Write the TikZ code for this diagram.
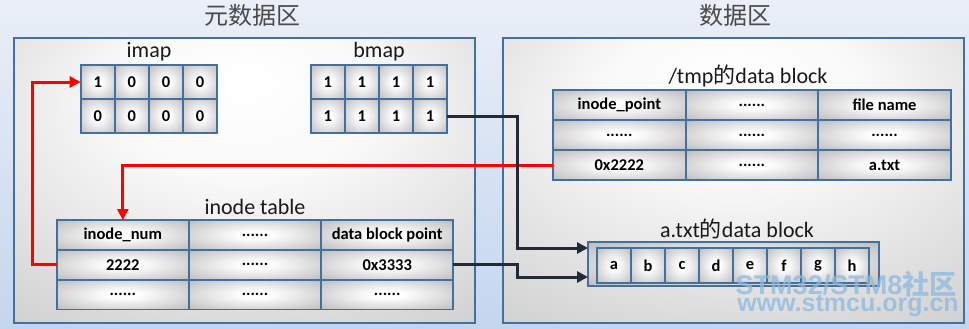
\documentclass[tikz,border=0pt]{standalone}
\usepackage{fontspec}
\setmainfont{Carlito}
\newfontfamily\cjk{Noto Sans CJK SC}
\newfontfamily\wmfont{Liberation Sans}
\usepackage{tikz}
\usetikzlibrary{arrows.meta, positioning}
\definecolor{bgtop}{HTML}{EAEFF8}
\definecolor{bgbot}{HTML}{C4D6EE}
\definecolor{edge}{HTML}{41719C}
\definecolor{cellgray}{HTML}{9C9C9C}
\definecolor{panelgray}{HTML}{A2A2A2}
\definecolor{linkdark}{HTML}{222A35}
\definecolor{titlegray}{HTML}{4A4A4A}
\definecolor{wmblue}{HTML}{8CB9E0}
\newcommand\moredots{......}
\pgfdeclareradialshading{panelglow}{\pgfpoint{0bp}{18bp}}{color(0bp)=(white); color(14bp)=(white!94!panelgray); color(45bp)=(white!45!panelgray); color(75bp)=(panelgray)}
\pgfdeclareradialshading{cellglow}{\pgfpoint{0bp}{0bp}}{color(0bp)=(white); color(6bp)=(white); color(26bp)=(white!55!cellgray); color(50bp)=(cellgray)}
\tikzset{
  panel/.style={rectangle, draw=edge, line width=2.4pt, shading=panelglow},
  cell/.style={rectangle, draw=edge, line width=1.8pt, shading=cellglow, inner sep=0pt, outer sep=0pt, font=\fontsize{16.5}{18}\selectfont\bfseries},
  bit/.style={cell, minimum width=34.1pt, minimum height=34pt},
  fld/.style={cell, minimum width=132.2pt, minimum height=29.8pt},
  chr/.style={cell, minimum width=34pt, minimum height=35pt},
  ttl/.style={font=\cjk\fontsize{24}{28}\selectfont, text=titlegray},
  lab/.style={font=\fontsize{22}{26}\selectfont, text=black!90},
  redlink/.style={-{Triangle[length=11pt,width=11pt]}, line width=3pt, draw=red},
  darklink/.style={-{Triangle[length=11pt,width=11pt]}, line width=3pt, draw=linkdark},
  wm/.style={font=\wmfont\bfseries, text=wmblue, opacity=0.75},
}

\begin{document}
\begin{tikzpicture}[x=1pt, y=-1pt]
  \fill[top color=bgtop, bottom color=bgbot] (0,0) rectangle (969,329);
  \useasboundingbox (0,0) rectangle (969,329);

  % two areas
  \node[panel, minimum width=461pt, minimum height=285pt] (meta) at (244.5,180.5) {};
  \node[panel, minimum width=461pt, minimum height=285pt] (data) at (733.5,180.5) {};
  \node[ttl] (metattl) at (252,15) {元数据区};
  \node[ttl] (datattl) at (735,15) {数据区};

  % imap and bmap
  \node[lab] (imaplab) at (149,52) {imap};
  \node[lab] (bmaplab) at (379,52) {bmap};
  \foreach \r/\row in {1/{1,0,0,0},2/{0,0,0,0}}
    \foreach \v [count=\c] in \row
      \node[bit] (im\r\c) at ({80.7+34.1*(\c-0.5)},{65+34*(\r-0.5)}) {\v};
  \foreach \r/\row in {1/{1,1,1,1},2/{1,1,1,1}}
    \foreach \v [count=\c] in \row
      \node[bit] (bm\r\c) at ({310.7+34.1*(\c-0.5)},{65+34*(\r-0.5)}) {\v};

  % inode table
  \node[lab] (itlab) at (255,207) {inode table};
  \foreach \r/\row in {1/{inode\_num,\moredots,data block point},2/{2222,\moredots,0x3333},3/{\moredots,\moredots,\moredots}}
    \foreach \v [count=\c] in \row
      \node[fld] (it\r\c) at ({56.7+132.2*(\c-0.5)},{220+29.8*(\r-0.5)}) {\v};

  % /tmp data block
  \node[lab] (tmplab) at (748,76) {/tmp{\cjk 的}data block};
  \foreach \r/\row in {1/{inode\_point,\moredots,file name},2/{\moredots,\moredots,\moredots},3/{0x2222,\moredots,a.txt}}
    \foreach \v [count=\c] in \row
      \node[fld] (tp\r\c) at ({553+132.6*(\c-0.5)},{90+30*(\r-0.5)}) {\v};

  % a.txt data block
  \node[lab] (txtlab) at (737,229) {a.txt{\cjk 的}data block};
  \node[cell, minimum width=291pt, minimum height=44pt] (abox) at (733.5,264) {};
  \foreach \v [count=\c] in {a,b,c,d,e,f,g,h}
    \node[chr] (ch\c) at ({597+34*(\c-0.5)},265.5) {\v};

  % links
  \draw[redlink] (it21.west) -- ++(-24.7,0) |- (im11.west);
  \draw[redlink] (tp31.west) -| (it11.north);
  \draw[darklink] (bm24.east) -- ++(70,0) |- ([yshift=-6pt]abox.north west);
  \draw[darklink] (it23.east) -- ++(64,0) |- ([yshift=9pt]abox.south west);

  % watermark
  \node[wm, font=\wmfont\bfseries\fontsize{27}{30}\selectfont] (wm1) at (846,284) {STM32/STM8{\cjk 社区}};
  \node[wm, font=\wmfont\bfseries\fontsize{25}{28}\selectfont] (wm2) at (848,306) {www.stmcu.org.cn};
\end{tikzpicture}
\end{document}
